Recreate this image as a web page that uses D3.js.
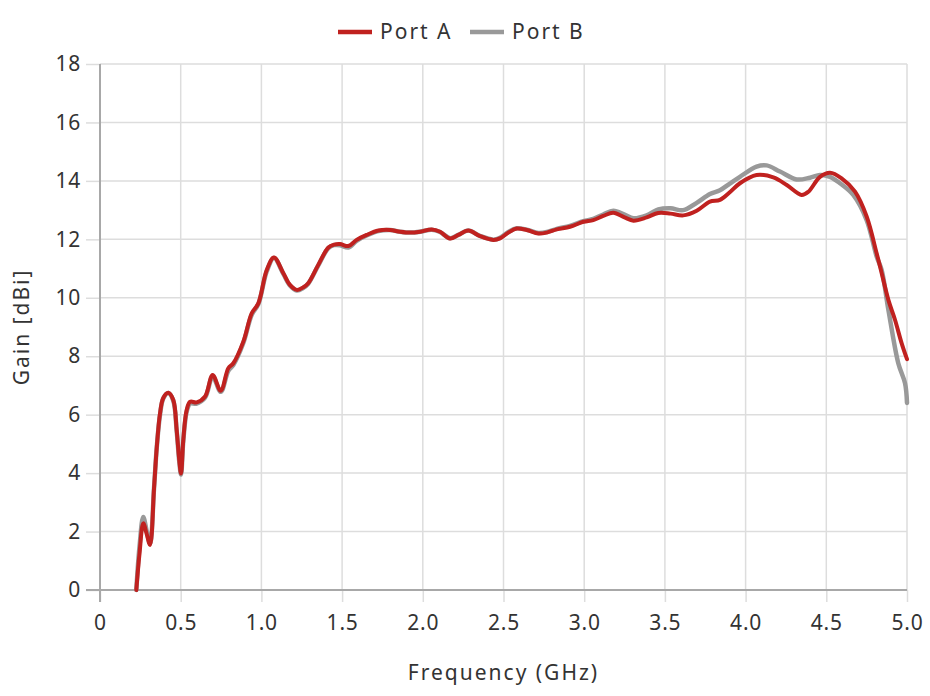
<!DOCTYPE html>
<html>
<head>
<meta charset="utf-8">
<script src="https://cdn.jsdelivr.net/npm/d3@7"></script>
<style>
  html, body { margin: 0; padding: 0; background: #fff; }
  svg text { font-family: "Noto Sans", "DejaVu Sans", sans-serif; fill: #333; }
</style>
</head>
<body>
<svg id="chart" width="930" height="696"></svg>
<script>
// ---- data ----
const seriesNames = ["Port A", "Port B"];
const xTicks = [0, 0.5, 1.0, 1.5, 2.0, 2.5, 3.0, 3.5, 4.0, 4.5, 5.0];
const yTicks = [0, 2, 4, 6, 8, 10, 12, 14, 16, 18];

const freqA = [0.225,0.245,0.268,0.29,0.31,0.335,0.352,0.372,0.392,0.423,0.454,0.475,0.491,0.502,0.516,0.537,0.558,0.599,0.651,0.698,0.748,0.795,0.826,0.888,0.94,0.981,1.033,1.078,1.136,1.177,1.219,1.26,1.29,1.35,1.415,1.45,1.487,1.539,1.59,1.652,1.725,1.797,1.859,1.921,1.983,2.055,2.107,2.169,2.22,2.282,2.354,2.437,2.478,2.53,2.582,2.644,2.716,2.768,2.83,2.912,2.995,3.056,3.118,3.18,3.25,3.305,3.387,3.459,3.535,3.614,3.697,3.779,3.841,3.9,3.965,4.068,4.172,4.255,4.347,4.389,4.461,4.523,4.595,4.678,4.75,4.812,4.833,4.885,4.926,4.967,5.0];
const gainA = [0,1.26,2.28,1.9,1.54,3.5,4.9,6.05,6.57,6.75,6.5,5.48,4.45,3.99,5.13,6.16,6.44,6.42,6.62,7.36,6.82,7.59,7.76,8.5,9.47,9.81,10.95,11.38,10.84,10.44,10.27,10.36,10.5,11.1,11.72,11.82,11.84,11.77,11.98,12.15,12.3,12.32,12.26,12.23,12.26,12.34,12.26,12.03,12.15,12.3,12.11,11.98,12.03,12.23,12.37,12.32,12.2,12.23,12.34,12.43,12.6,12.66,12.8,12.91,12.75,12.64,12.75,12.9,12.88,12.82,12.98,13.29,13.35,13.6,13.92,14.2,14.12,13.86,13.52,13.63,14.14,14.28,14.09,13.63,12.78,11.52,11.07,9.92,9.24,8.44,7.9];

const freqB = [0.225,0.245,0.268,0.29,0.31,0.335,0.352,0.372,0.392,0.423,0.454,0.475,0.491,0.502,0.516,0.537,0.558,0.599,0.651,0.698,0.748,0.795,0.826,0.888,0.94,0.981,1.033,1.078,1.136,1.177,1.219,1.26,1.29,1.35,1.415,1.45,1.487,1.539,1.59,1.652,1.725,1.797,1.859,1.921,1.983,2.055,2.107,2.169,2.22,2.282,2.354,2.437,2.478,2.53,2.582,2.644,2.716,2.768,2.83,2.912,2.995,3.056,3.118,3.18,3.25,3.305,3.387,3.459,3.535,3.614,3.697,3.779,3.841,3.9,3.965,4.068,4.13,4.213,4.316,4.399,4.461,4.523,4.585,4.667,4.75,4.812,4.843,4.885,4.946,4.988,5.0];
const gainB = [0,1.5,2.5,2.0,1.6,3.5,4.9,6.0,6.55,6.74,6.48,5.45,4.4,3.95,5.1,6.1,6.38,6.38,6.58,7.3,6.78,7.5,7.7,8.45,9.42,9.78,10.9,11.36,10.82,10.42,10.25,10.34,10.48,11.08,11.7,11.8,11.8,11.72,11.95,12.13,12.28,12.32,12.26,12.23,12.26,12.33,12.25,12.04,12.15,12.3,12.12,11.99,12.05,12.25,12.38,12.33,12.22,12.25,12.36,12.46,12.62,12.7,12.85,12.98,12.85,12.72,12.82,13.02,13.06,13.0,13.25,13.55,13.68,13.9,14.14,14.49,14.53,14.32,14.05,14.11,14.2,14.14,13.92,13.52,12.66,11.41,10.95,9.58,7.76,7.07,6.4];

// ---- layout ----
const svg = d3.select("#chart");
const pL = 100, pR = 907, pT = 64, pB = 590;

const x = d3.scaleLinear().domain([0, 5]).range([pL, pR]);
const y = d3.scaleLinear().domain([0, 18]).range([pB, pT]);

const gridColor = "#dddddd";
const axisColor = "#a8a8a8";

// grid
svg.append("g").selectAll("line").data(xTicks.slice(1)).join("line")
  .attr("x1", d => x(d)).attr("x2", d => x(d))
  .attr("y1", pT).attr("y2", pB)
  .attr("stroke", gridColor).attr("stroke-width", 1.5);
svg.append("g").selectAll("line").data(yTicks.slice(1)).join("line")
  .attr("x1", pL).attr("x2", pR)
  .attr("y1", d => y(d)).attr("y2", d => y(d))
  .attr("stroke", gridColor).attr("stroke-width", 1.5);

// axes
const fmtX = d => d === 0 ? "0" : d3.format(".1f")(d);
const xAxis = svg.append("g")
  .attr("transform", `translate(0,${pB})`)
  .call(d3.axisBottom(x).tickValues(xTicks).tickFormat(fmtX).tickSize(12).tickPadding(13));
const yAxis = svg.append("g")
  .attr("transform", `translate(${pL},0)`)
  .call(d3.axisLeft(y).tickValues(yTicks).tickSize(14).tickPadding(5));

[xAxis, yAxis].forEach(g => {
  g.select(".domain").remove();
  g.selectAll(".tick line").attr("stroke", gridColor).attr("stroke-width", 1.5);
  g.selectAll(".tick text").attr("font-size", 21).attr("fill", "#333").attr("letter-spacing", 0.8)
    .style("font-family", '"Noto Sans", sans-serif');
});

// axis lines
svg.append("line").attr("x1", pL).attr("x2", pL).attr("y1", pT).attr("y2", pB + 12)
  .attr("stroke", axisColor).attr("stroke-width", 2);
svg.append("line").attr("x1", pL - 14).attr("x2", pR).attr("y1", pB).attr("y2", pB)
  .attr("stroke", axisColor).attr("stroke-width", 2);

// lines
const line = d3.line().x(d => x(d[0])).y(d => y(d[1])).curve(d3.curveCatmullRom.alpha(0.5));
const dataA = freqA.map((f, i) => [f, gainA[i]]);
const dataB = freqB.map((f, i) => [f, gainB[i]]);
const colors = ["#c0211f", "#999999"];

svg.append("path").datum(dataB).attr("d", line)
  .attr("fill", "none").attr("stroke", colors[1]).attr("stroke-width", 4.5)
  .attr("stroke-linejoin", "round").attr("stroke-linecap", "round");
svg.append("path").datum(dataA).attr("d", line)
  .attr("fill", "none").attr("stroke", colors[0]).attr("stroke-width", 4)
  .attr("stroke-linejoin", "round").attr("stroke-linecap", "round");

// axis titles
svg.append("text").attr("x", (pL + pR) / 2).attr("y", 680)
  .attr("text-anchor", "middle").attr("font-size", 21).attr("letter-spacing", 2)
  .text("Frequency (GHz)");
svg.append("text").attr("transform", `translate(29,${(pT + pB) / 2}) rotate(-90)`)
  .attr("text-anchor", "middle").attr("font-size", 21).attr("letter-spacing", 2)
  .text("Gain [dBi]");

// legend
const legendItems = [{name: seriesNames[0], x: 338, color: colors[0]}, {name: seriesNames[1], x: 470, color: colors[1]}];
const lg = svg.append("g");
legendItems.forEach(it => {
  lg.append("line").attr("x1", it.x).attr("x2", it.x + 34).attr("y1", 32).attr("y2", 32)
    .attr("stroke", it.color).attr("stroke-width", 4.5);
  lg.append("text").attr("x", it.x + 42).attr("y", 39).attr("font-size", 21).attr("letter-spacing", 2)
    .text(it.name);
});
</script>
</body>
</html>
